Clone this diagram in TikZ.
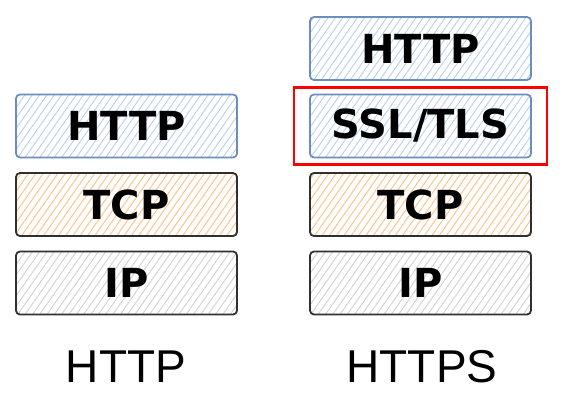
\documentclass[tikz,border=0pt]{standalone}
\usepackage{fontspec}
\setmainfont{Liberation Sans}
\newfontfamily\layerfont{DejaVu Sans}
\usetikzlibrary{positioning,fit,patterns.meta}

\definecolor{blueline}{HTML}{6C8EBF}
\definecolor{bluehatch}{HTML}{BCD2F2}
\definecolor{orangehatch}{HTML}{FFC48C}
\definecolor{grayhatch}{HTML}{D4D4D4}
\definecolor{darkline}{HTML}{303030}

\tikzset{
    layer/.style={rounded corners=4pt, line width=1.8pt, minimum width=221pt,
        minimum height=63pt, inner sep=0pt,
        font=\layerfont\bfseries\fontsize{40}{48}\selectfont},
    hatch/.style={pattern={Lines[angle=55,distance=6pt,line width=1pt]},
        pattern color=#1},
    app/.style={layer, draw=blueline, hatch=bluehatch},
    transport/.style={layer, draw=darkline, hatch=orangehatch},
    network/.style={layer, draw=darkline, hatch=grayhatch},
    hilite/.style={draw=red, line width=2.5pt, inner xsep=15pt, inner ysep=6pt},
    caption/.style={font=\fontsize{46}{54}\selectfont}
}

\begin{document}
\begin{tikzpicture}[node distance=78.5pt,on grid]
    \useasboundingbox (0pt,0pt) rectangle (562pt,-413pt);

    % plain HTTP stack
    \node[app] (http1) at (126.5pt,-126pt) {HTTP};
    \node[transport] (tcp1) [below=of http1] {TCP};
    \node[network] (ip1) [below=of tcp1] {IP};
    \node[caption] (cap1) at (126pt,-367pt) {HTTP};

    % HTTPS stack
    \node[app] (ssl2) at (420.5pt,-126pt) {SSL/TLS};
    \node[app] (http2) [above=of ssl2, yshift=-1pt] {HTTP};
    \node[transport] (tcp2) [below=of ssl2] {TCP};
    \node[network] (ip2) [below=of tcp2] {IP};
    \node[caption] (cap2) at (422pt,-367pt) {HTTPS};

    \node[hilite, fit=(ssl2)] (box) {};
\end{tikzpicture}
\end{document}
